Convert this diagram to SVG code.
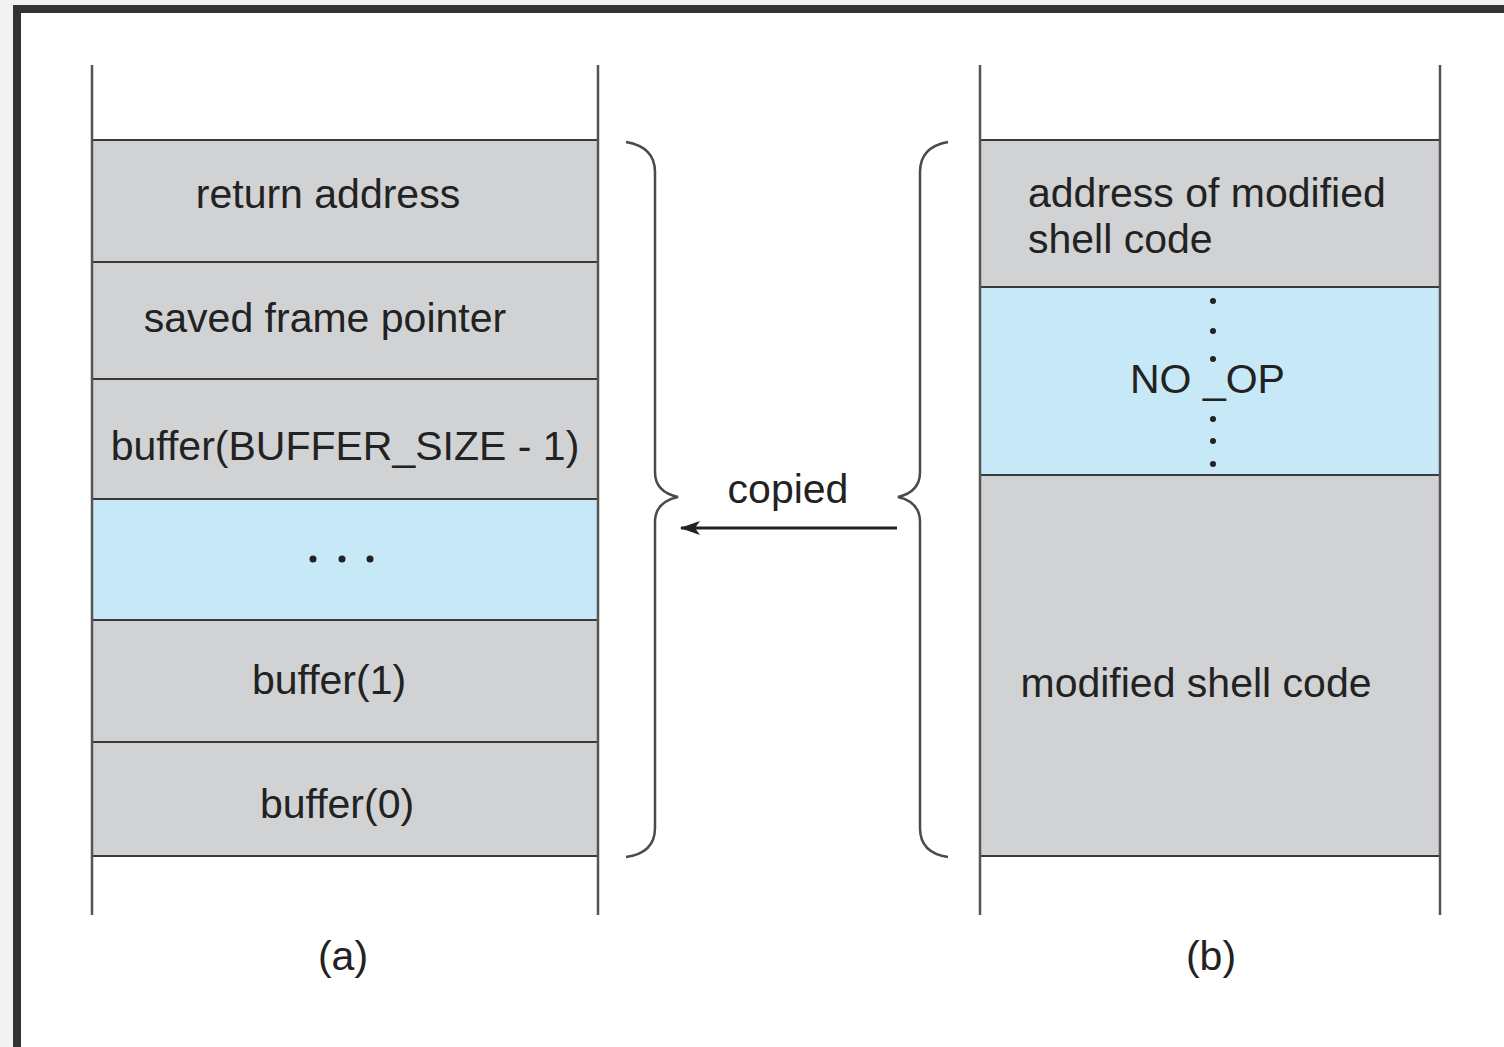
<svg xmlns="http://www.w3.org/2000/svg" width="1504" height="1047" viewBox="0 0 1504 1047">
<style>
.gray{fill:#d1d2d4;stroke:#3a3a3a;stroke-width:2}
.blue{fill:#c6e8f7;stroke:#3a3a3a;stroke-width:2}
.side{stroke:#555;stroke-width:2.5;fill:none}
.brace{stroke:#4a4a4a;stroke-width:2.5;fill:none}
text{font-family:"Liberation Sans",Arial,sans-serif;font-size:41px;fill:#222}
.dot{fill:#222}
</style>
<defs>
<marker id="ah" markerWidth="22" markerHeight="16" refX="20" refY="8" orient="auto" markerUnits="userSpaceOnUse">
<path d="M21,8 L1,1 L6,8 L1,15 Z" fill="#222"/>
</marker>
</defs>
<rect x="0" y="0" width="1504" height="1047" fill="#f2f2f2"/>
<rect x="17" y="9" width="1500" height="1050" fill="#fff" stroke="#333" stroke-width="8"/>
<g id="stack-a">
<g id="a-return"><rect class="gray" x="92" y="140" width="506" height="122"/><text x="328" y="208" text-anchor="middle">return address</text></g>
<g id="a-sfp"><rect class="gray" x="92" y="262" width="506" height="117"/><text x="325" y="332" text-anchor="middle">saved frame pointer</text></g>
<g id="a-bufmax"><rect class="gray" x="92" y="379" width="506" height="120"/><text x="345" y="460" text-anchor="middle">buffer(BUFFER_SIZE - 1)</text></g>
<g id="a-dots"><rect class="blue" x="92" y="499" width="506" height="121"/><circle class="dot" cx="313" cy="559" r="3.5"/><circle class="dot" cx="342" cy="559" r="3.5"/><circle class="dot" cx="370" cy="559" r="3.5"/></g>
<g id="a-buf1"><rect class="gray" x="92" y="620" width="506" height="122"/><text x="329" y="694" text-anchor="middle">buffer(1)</text></g>
<g id="a-buf0"><rect class="gray" x="92" y="742" width="506" height="114"/><text x="337" y="818" text-anchor="middle">buffer(0)</text></g>
<line class="side" x1="92" y1="65" x2="92" y2="915"/>
<line class="side" x1="598" y1="65" x2="598" y2="915"/>
<text x="343" y="970" text-anchor="middle">(a)</text>
</g>
<g id="stack-b">
<g id="b-addr"><rect class="gray" x="980" y="140" width="460" height="147"/><text x="1028" y="207">address of modified</text><text x="1028" y="253">shell code</text></g>
<g id="b-noop"><rect class="blue" x="980" y="287" width="460" height="188"/><text x="1130" y="393">NO _OP</text>
<circle class="dot" cx="1213" cy="301" r="3"/><circle class="dot" cx="1213" cy="331" r="3"/><circle class="dot" cx="1213" cy="359" r="3"/><circle class="dot" cx="1213" cy="419" r="3"/><circle class="dot" cx="1213" cy="441" r="3"/><circle class="dot" cx="1213" cy="464" r="3"/></g>
<g id="b-shell"><rect class="gray" x="980" y="475" width="460" height="381"/><text x="1196" y="697" text-anchor="middle">modified shell code</text></g>
<line class="side" x1="980" y1="65" x2="980" y2="915"/>
<line class="side" x1="1440" y1="65" x2="1440" y2="915"/>
<text x="1211" y="970" text-anchor="middle">(b)</text>
</g>
<g id="connectors">
<path class="brace" d="M626,142 Q655,147 655,172 L655,472 Q655,492 678,497 Q655,502 655,522 L655,828 Q655,853 626,857"/>
<path class="brace" d="M948,142 Q920,147 920,172 L920,472 Q920,492 898,497 Q920,502 920,522 L920,828 Q920,853 948,857"/>
<line x1="897" y1="528" x2="681" y2="528" stroke="#222" stroke-width="3" marker-end="url(#ah)"/>
<text x="788" y="503" text-anchor="middle">copied</text>
</g>
</svg>
